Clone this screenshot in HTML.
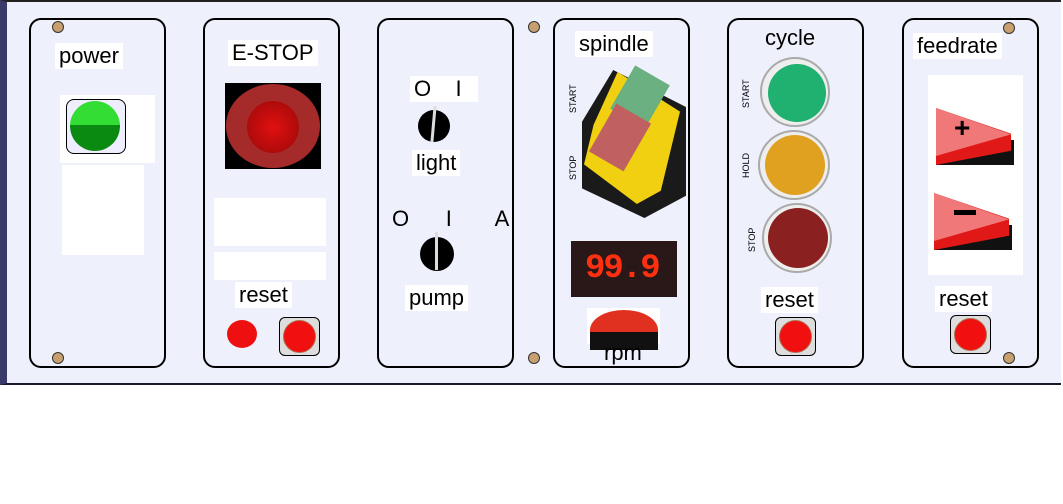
<!DOCTYPE html>
<html><head><style>
body{margin:0;width:1063px;height:504px;background:#fff;position:relative;overflow:hidden;font-family:"Liberation Sans",sans-serif}
#bg{position:absolute;left:0;top:0;width:1061px;height:385px;background:#eef0fb;border-top:2px solid #222;border-bottom:2px solid #1a1a2a;border-left:7px solid #3a3a6a;box-sizing:border-box}
.p{position:absolute;top:18px;width:137px;height:350px;border:2px solid #000;border-radius:12px;box-sizing:border-box}
.a{position:absolute}
.t{position:absolute;font-size:22px;color:#000;background:#fff;padding:0 4px;line-height:26px}
.s{position:absolute;font-size:9px;transform:rotate(-90deg);transform-origin:left top;white-space:nowrap}
.w{position:absolute;background:#fff}
.sc{position:absolute;width:10px;height:10px;border-radius:50%;background:#c8a070;border:1px solid #333}
</style></head><body>
<div id="bg"></div>
<div class="p" style="left:29px"></div>
<div class="p" style="left:203px"></div>
<div class="p" style="left:377px"></div>
<div class="p" style="left:553px"></div>
<div class="p" style="left:727px"></div>
<div class="p" style="left:902px"></div>
<div class="sc" style="left:52px;top:21px"></div>
<div class="sc" style="left:52px;top:352px"></div>
<div class="sc" style="left:528px;top:21px"></div>
<div class="sc" style="left:528px;top:352px"></div>
<div class="sc" style="left:1003px;top:22px"></div>
<div class="sc" style="left:1003px;top:352px"></div>
<!-- power -->
<div class="w" style="left:60px;top:95px;width:95px;height:68px"></div>
<div class="w" style="left:62px;top:165px;width:82px;height:90px"></div>
<div class="t" style="left:55px;top:43px">power</div>
<div class="a" style="left:66px;top:99px;width:58px;height:53px;border:1px solid #000;border-radius:8px;background:#eef"></div>
<div class="a" style="left:70px;top:101px;width:50px;height:50px;border-radius:50%;background:linear-gradient(#33dd33 0 48%,#0a8a10 48%)"></div>
<!-- estop -->
<div class="t" style="left:228px;top:40px">E-STOP</div>
<div class="a" style="left:225px;top:83px;width:96px;height:86px;background:#000"></div>
<div class="a" style="left:226px;top:84px;width:94px;height:84px;border-radius:50%;background:#a52a2a"></div>
<div class="a" style="left:247px;top:101px;width:52px;height:52px;border-radius:50%;background:radial-gradient(#e01010,#9a0808)"></div>
<div class="w" style="left:214px;top:198px;width:112px;height:48px"></div>
<div class="w" style="left:214px;top:252px;width:112px;height:28px"></div>
<div class="t" style="left:235px;top:282px">reset</div>
<div class="a" style="left:227px;top:320px;width:30px;height:28px;border-radius:50%;background:#ee1010"></div>
<div class="a" style="left:279px;top:317px;width:39px;height:37px;border:1px solid #000;border-radius:6px;background:#ddd"></div>
<div class="a" style="left:283px;top:320px;width:31px;height:31px;border-radius:50%;background:#f01010;border:1px solid #b07050"></div>
<!-- light/pump -->
<div class="t" style="left:410px;top:76px">O&nbsp;&nbsp;&nbsp;&nbsp;I&nbsp;&nbsp;</div>
<div class="a" style="left:418px;top:110px;width:32px;height:32px;border-radius:50%;background:#000"></div>
<div class="a" style="left:432px;top:106px;width:3px;height:36px;background:#ddd;transform:rotate(5deg)"></div>
<div class="t" style="left:412px;top:150px">light</div>
<div class="t" style="left:388px;top:206px;background:none">O&nbsp;&nbsp;&nbsp;&nbsp;&nbsp;&nbsp;I&nbsp;&nbsp;&nbsp;&nbsp;&nbsp;&nbsp;&nbsp;A</div>
<div class="a" style="left:420px;top:237px;width:34px;height:34px;border-radius:50%;background:#000"></div>
<div class="a" style="left:435px;top:232px;width:3px;height:38px;background:#ddd"></div>
<div class="t" style="left:405px;top:285px">pump</div>
<!-- spindle -->
<div class="t" style="left:575px;top:31px">spindle</div>
<div class="s" style="left:568px;top:113px">START</div>
<div class="s" style="left:568px;top:180px">STOP</div>
<div class="a" style="left:582px;top:70px;width:104px;height:148px;background:#1a1a1a;clip-path:polygon(30% 0,100% 25%,100% 85%,60% 100%,0 80%,0 35%)"></div>
<div class="a" style="left:584px;top:72px;width:96px;height:132px;background:#f0d010;clip-path:polygon(35% 0,100% 30%,80% 90%,55% 100%,0 70%,10% 40%)"></div>
<div class="a" style="left:620px;top:72px;width:40px;height:50px;background:#6ab080;transform:rotate(30deg)"></div>
<div class="a" style="left:600px;top:110px;width:40px;height:55px;background:#c06060;transform:rotate(30deg)"></div>
<div class="a" style="left:571px;top:241px;width:106px;height:56px;background:#2a1818"></div>
<div class="a" style="left:585px;top:250px;font-size:34px;font-family:'Liberation Mono',monospace;color:#ff3010;font-weight:bold;letter-spacing:-2px;line-height:38px">99.9</div>
<div class="a" style="left:587px;top:308px;width:73px;height:36px;background:#fff"></div>
<div class="a" style="left:590px;top:310px;width:68px;height:40px;border-radius:50% 50% 0 0;background:linear-gradient(#e03020 55%,#111 55%)"></div>
<div class="t" style="left:600px;top:340px;background:none">rpm</div>
<!-- cycle -->
<div class="t" style="left:761px;top:25px;background:none">cycle</div>
<div class="s" style="left:741px;top:108px">START</div>
<div class="s" style="left:741px;top:178px">HOLD</div>
<div class="s" style="left:747px;top:252px">STOP</div>
<div class="a" style="left:760px;top:57px;width:70px;height:70px;border-radius:50%;background:#eee;border:2px solid #aaa;box-sizing:border-box"></div>
<div class="a" style="left:768px;top:64px;width:58px;height:58px;border-radius:50%;background:#20b070"></div>
<div class="a" style="left:758px;top:130px;width:72px;height:70px;border-radius:50%;background:#eee;border:2px solid #aaa;box-sizing:border-box"></div>
<div class="a" style="left:765px;top:135px;width:60px;height:60px;border-radius:50%;background:#e0a020"></div>
<div class="a" style="left:762px;top:203px;width:70px;height:70px;border-radius:50%;background:#eee;border:2px solid #aaa;box-sizing:border-box"></div>
<div class="a" style="left:768px;top:208px;width:60px;height:60px;border-radius:50%;background:#8a2020"></div>
<div class="t" style="left:761px;top:287px">reset</div>
<div class="a" style="left:775px;top:317px;width:39px;height:37px;border:1px solid #000;border-radius:6px;background:#ddd"></div>
<div class="a" style="left:779px;top:320px;width:31px;height:31px;border-radius:50%;background:#f01010;border:1px solid #b07050"></div>
<!-- feedrate -->
<div class="t" style="left:913px;top:33px">feedrate</div>
<div class="w" style="left:928px;top:75px;width:95px;height:200px"></div>
<div class="a" style="left:936px;top:108px;width:78px;height:57px;background:linear-gradient(90deg,#fff 0,#fff 100%);"></div>
<div class="a" style="left:936px;top:140px;width:78px;height:25px;background:#111"></div>
<div class="a" style="left:936px;top:108px;width:75px;height:57px;background:#e01818;clip-path:polygon(0 0,100% 45%,100% 75%,0 100%)"></div>
<div class="a" style="left:936px;top:108px;width:75px;height:48px;background:#f07878;clip-path:polygon(0 0,100% 55%,0 100%)"></div>
<div class="a" style="left:954px;top:112px;font-size:28px;font-weight:bold">+</div>
<div class="a" style="left:934px;top:225px;width:78px;height:25px;background:#111"></div>
<div class="a" style="left:934px;top:193px;width:75px;height:57px;background:#e01818;clip-path:polygon(0 0,100% 45%,100% 75%,0 100%)"></div>
<div class="a" style="left:934px;top:193px;width:75px;height:48px;background:#f07878;clip-path:polygon(0 0,100% 55%,0 100%)"></div>
<div class="a" style="left:954px;top:210px;width:22px;height:5px;background:#000"></div>
<div class="t" style="left:935px;top:286px">reset</div>
<div class="a" style="left:950px;top:315px;width:39px;height:37px;border:1px solid #000;border-radius:6px;background:#ddd"></div>
<div class="a" style="left:954px;top:318px;width:31px;height:31px;border-radius:50%;background:#f01010;border:1px solid #b07050"></div>
</body></html>
